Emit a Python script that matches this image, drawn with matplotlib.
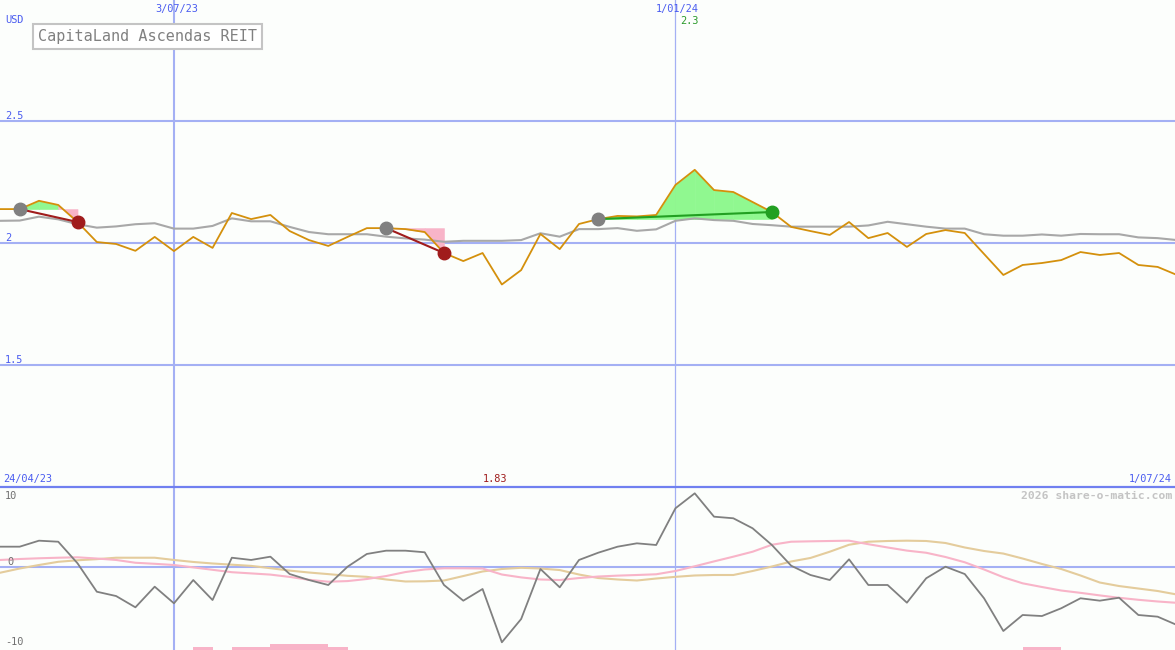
"""
Weekly price chart with moving average, trade markers and an oscillator panel.
"""
import matplotlib.pyplot as plt
import numpy as np

# weekly closes, USD (week 0 = 1/05/23)
price = [2.139, 2.139, 2.173, 2.156, 2.086, 2.004, 1.996, 1.968, 2.025, 1.967,
         2.025, 1.980, 2.123, 2.098, 2.115, 2.049, 2.012, 1.988, 2.025, 2.061,
         2.061, 2.057, 2.045, 1.959, 1.926, 1.959, 1.830, 1.889, 2.037, 1.975,
         2.078, 2.098, 2.111, 2.109, 2.115, 2.238, 2.300, 2.217, 2.209, 2.168,
         2.127, 2.066, 2.049, 2.033, 2.086, 2.020, 2.041, 1.984, 2.037, 2.053,
         2.041, 1.955, 1.869, 1.910, 1.918, 1.930, 1.963, 1.951, 1.959, 1.910,
         1.902, 1.869]

moving_avg = [2.091, 2.092, 2.108, 2.097, 2.077, 2.063, 2.068, 2.077, 2.081, 2.059,
              2.059, 2.070, 2.101, 2.089, 2.089, 2.066, 2.045, 2.036, 2.036, 2.036,
              2.026, 2.019, 2.014, 2.005, 2.009, 2.009, 2.009, 2.012, 2.040, 2.026,
              2.057, 2.057, 2.061, 2.050, 2.056, 2.091, 2.101, 2.094, 2.091, 2.078,
              2.073, 2.067, 2.067, 2.067, 2.067, 2.072, 2.087, 2.077, 2.067, 2.059,
              2.059, 2.036, 2.030, 2.030, 2.035, 2.030, 2.037, 2.036, 2.036, 2.023,
              2.020, 2.012]

# oscillator panel
momentum = [2.54, 2.54, 3.29, 3.16, 0.46, -3.09, -3.63, -5.04, -2.46, -4.54,
            -1.63, -4.13, 1.16, 0.88, 1.29, -0.88, -1.63, -2.25, 0.04, 1.63,
            2.04, 2.04, 1.84, -2.25, -4.21, -2.75, -9.41, -6.50, -0.25, -2.54,
            0.88, 1.79, 2.54, 2.96, 2.75, 7.34, 9.21, 6.29, 6.09, 4.84,
            2.75, 0.16, -1.00, -1.63, 0.96, -2.25, -2.25, -4.46, -1.41, 0.04,
            -0.88, -3.91, -8.00, -6.00, -6.13, -5.16, -3.91, -4.21, -3.84, -6.00,
            -6.21, -7.25]

signal_fast = [0.88, 1.00, 1.09, 1.16, 1.21, 1.06, 0.88, 0.53, 0.40, 0.25,
               -0.05, -0.35, -0.65, -0.80, -0.95, -1.24, -1.60, -1.84, -1.76, -1.50,
               -1.13, -0.63, -0.31, -0.16, -0.16, -0.19, -0.94, -1.30, -1.56, -1.63,
               -1.38, -1.19, -1.08, -1.00, -0.91, -0.50, 0.09, 0.70, 1.29, 1.91,
               2.78, 3.16, 3.21, 3.25, 3.29, 2.85, 2.44, 2.05, 1.78, 1.25,
               0.59, -0.31, -1.28, -2.04, -2.50, -2.94, -3.23, -3.55, -3.85, -4.10,
               -4.31, -4.48]

signal_slow = [-0.71, -0.19, 0.25, 0.65, 0.84, 0.98, 1.16, 1.16, 1.16, 0.88,
               0.63, 0.44, 0.29, 0.14, -0.15, -0.45, -0.69, -0.89, -1.10, -1.23,
               -1.56, -1.81, -1.79, -1.69, -1.13, -0.56, -0.25, -0.10, -0.19, -0.38,
               -0.94, -1.38, -1.56, -1.69, -1.44, -1.23, -1.06, -1.00, -1.00, -0.50,
               0.06, 0.69, 1.13, 1.91, 2.78, 3.16, 3.25, 3.29, 3.25, 3.00,
               2.44, 2.00, 1.68, 1.06, 0.38, -0.25, -1.06, -1.94, -2.38, -2.69,
               -3.00, -3.44]

bar_weeks = [10, 12, 13, 14, 15, 16, 17, 53, 54]
bar_heights = [0.4, 0.4, 0.4, 0.8, 0.8, 0.8, 0.4, 0.4, 0.4]

# trades: (entry week, exit week)
trades = [(1, 4), (20, 23), (31, 40)]

W, H = 1175, 650
BG = '#fcfefc'
GRID = '#a4b0f4'
BLUE = '#4a5cf0'
MONO = 'DejaVu Sans Mono'

weeks = np.arange(len(price))
price = np.array(price)

fig = plt.figure(figsize=(W / 100, H / 100), dpi=100, facecolor=BG)
ax = fig.add_axes([0, 163 / H, 1, 487 / H])
ax2 = fig.add_axes([0, 0, 1, 163 / H])

xlim = (-0.02, 60.9)
for a in (ax, ax2):
    a.set_facecolor(BG)
    a.set_xlim(*xlim)
    a.set_xticks([])
    a.set_yticks([])
    for s in a.spines.values():
        s.set_visible(False)
    a.axvline(9, color=GRID, lw=1.5, zorder=1)
    a.axvline(35, color=GRID, lw=0.9, zorder=1)

ax.set_ylim(1.0, 2.996)
for lvl in (2.5, 2.0, 1.5):
    ax.axhline(lvl, color=GRID, lw=1.5, zorder=1)

# trade shading, segment by segment
for start, end in trades:
    entry = price[start]
    for j in range(start, end):
        col = '#90f890' if price[j + 1] > entry else '#f8b4c8'
        ax.fill_between(weeks[j:j + 2], entry, price[j:j + 2], facecolor=col,
                        edgecolor=col, lw=0.4, zorder=2)

ax.plot(weeks, moving_avg, color='#a8a8a8', lw=1.5, zorder=3)
ax.plot(weeks, price, color='#d4900c', lw=1.3, zorder=4)

for start, end in trades:
    won = price[end] > price[start]
    line_col = '#22a022' if won else '#a01c1c'
    ax.plot([start, end], [price[start], price[end]], color=line_col, lw=1.5, zorder=5)
    ax.plot(start, price[start], 'o', ms=9, color='#808080', zorder=6)
    ax.plot(end, price[end], 'o', ms=9, color=line_col, zorder=6)

# oscillator
ax2.set_ylim(-10.375, 10)
ax2.axhline(0, color=GRID, lw=1.5, zorder=1)
ax2.axhline(10, color='#7080f0', lw=1.6, zorder=1, clip_on=False)
ax2.bar(bar_weeks, bar_heights, width=1.0, align='edge', bottom=-10.375,
        color='#f8b4c8', zorder=2)
ax2.plot(weeks, signal_slow, color='#e4cc9c', lw=1.5, zorder=3)
ax2.plot(weeks, signal_fast, color='#f8b4c8', lw=1.5, zorder=3)
ax2.plot(weeks, momentum, color='#808080', lw=1.3, zorder=4)


def label(x, y, s, color=BLUE, size=7.4, ha='left', **kw):
    fig.text(x / W, 1 - y / H, s, color=color, fontsize=size, ha=ha, va='center',
             family=MONO, **kw)


label(5, 20, 'USD')
label(177, 9, '3/07/23', ha='center')
label(677, 9, '1/01/24', ha='center')
label(689, 21, '2.3', color='#2a9a2a', ha='center')
label(5, 116, '2.5')
label(5, 238, '2')
label(5, 360, '1.5')
label(3, 479, '24/04/23')
label(495, 479, '1.83', color='#a01c1c', ha='center')
label(1172, 479, '1/07/24', ha='right')
label(5, 496, '10', color='#707070')
label(7, 562, '0', color='#707070')
label(5, 642, '-10', color='#707070')
label(1172, 496, '2026 share-o-matic.com', color='#c4c4c4', size=8.2, ha='right',
      weight='bold')

fig.text(38 / W, 1 - 36.5 / H, 'CapitaLand Ascendas REIT', color='#808080',
         fontsize=10.9, family=MONO, ha='left', va='center',
         bbox=dict(boxstyle='square,pad=0.32', fc='white', ec='#c4c4c4', lw=1.5))

fig.savefig('out.png', dpi=100, facecolor=BG)
